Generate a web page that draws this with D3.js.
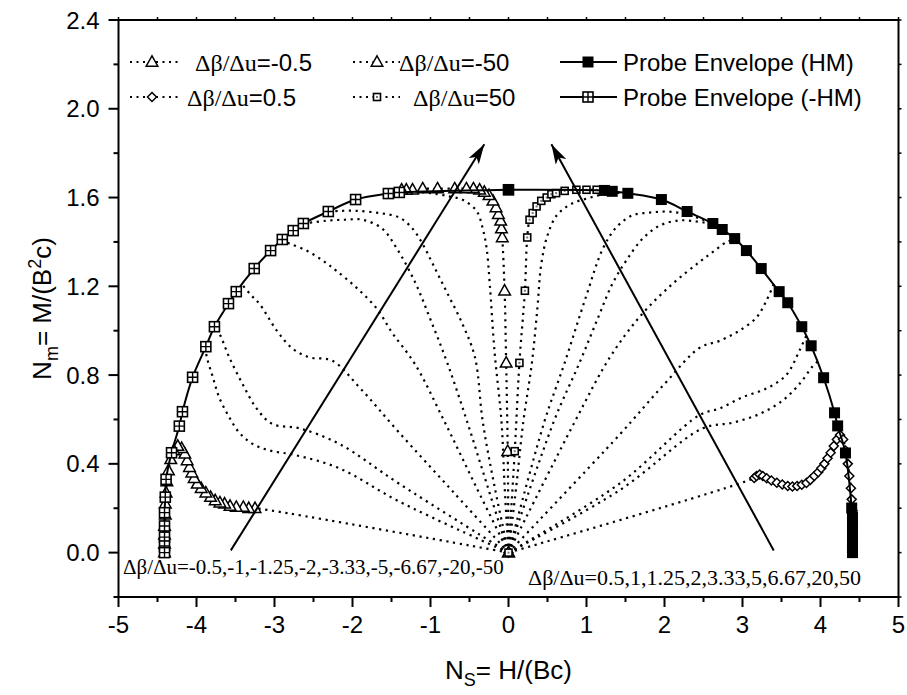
<!DOCTYPE html>
<html><head><meta charset="utf-8">
<script src="https://cdn.jsdelivr.net/npm/d3@7"></script>
<style>body{margin:0;background:#fff}</style>
</head><body><svg id="c" width="907" height="695"></svg>
<script>
// ---------- axis ticks ----------
const xTicks = [-5,-4,-3,-2,-1,0,1,2,3,4,5];
const xMinor = [-4.5,-3.5,-2.5,-1.5,-0.5,0.5,1.5,2.5,3.5,4.5];
const yTicks = [0,0.4,0.8,1.2,1.6,2.0,2.4];
const yMinor = [-0.2,0.2,0.6,1.0,1.4,1.8,2.2];

// ---------- envelopes ----------
const envHM = [[0,1.635],[1.23,1.632],[1.33,1.628],[1.53,1.619],[1.96,1.591],[2.29,1.537],[2.62,1.483],[2.74,1.456],[2.90,1.415],[3.05,1.361],[3.24,1.280],[3.47,1.176],[3.58,1.126],[3.76,1.018],[3.88,0.932],[4.04,0.788],[4.18,0.630],[4.22,0.571],[4.32,0.449],[4.40,0.201],[4.41,0.160],[4.41,0.129],[4.41,0.090],[4.41,0.052],[4.41,0.020],[4.41,0]];
const envNegHM = [[0,1.635],[-1.40,1.623],[-1.54,1.618],[-1.96,1.591],[-2.31,1.537],[-2.63,1.483],[-2.76,1.451],[-2.90,1.411],[-3.05,1.361],[-3.26,1.280],[-3.49,1.176],[-3.59,1.122],[-3.77,1.018],[-3.88,0.928],[-4.05,0.790],[-4.18,0.635],[-4.22,0.570],[-4.32,0.450],[-4.39,0.330],[-4.40,0.250],[-4.41,0.180],[-4.41,0.120],[-4.41,0.070],[-4.41,0.030],[-4.41,0]];

// ---------- dotted series with markers ----------
const sNeg0_5 = [[0,0],[-3.25,0.20],[-3.33,0.20],[-3.40,0.205],[-3.49,0.205],[-3.57,0.21],[-3.64,0.22],[-3.70,0.225],[-3.76,0.235],[-3.82,0.25],[-3.88,0.27],[-3.94,0.29],[-3.99,0.31],[-4.03,0.335],[-4.06,0.36],[-4.09,0.385],[-4.12,0.415],[-4.15,0.445],[-4.19,0.47],[-4.24,0.48],[-4.29,0.46],[-4.33,0.42],[-4.36,0.37],[-4.38,0.32],[-4.39,0.27],[-4.40,0.22],[-4.40,0.17],[-4.41,0.12],[-4.41,0.08],[-4.41,0.04],[-4.41,0]];
const sPos0_5 = [[0,0],[3.15,0.336],[3.18,0.345],[3.22,0.352],[3.26,0.345],[3.31,0.335],[3.37,0.325],[3.44,0.315],[3.51,0.307],[3.58,0.30],[3.64,0.298],[3.70,0.30],[3.76,0.306],[3.82,0.314],[3.87,0.328],[3.92,0.345],[3.97,0.362],[4.01,0.38],[4.05,0.40],[4.09,0.425],[4.13,0.45],[4.17,0.48],[4.21,0.51],[4.25,0.53],[4.29,0.51],[4.32,0.46],[4.35,0.40],[4.37,0.345],[4.39,0.29],[4.40,0.24],[4.41,0.19],[4.41,0.14],[4.41,0.09],[4.41,0.045],[4.41,0]];
const sNeg50 = [[0,0],[-0.01,0.457],[-0.03,0.855],[-0.05,1.18],[-0.08,1.42],[-0.09,1.46],[-0.10,1.495],[-0.13,1.525],[-0.16,1.555],[-0.20,1.585],[-0.25,1.61],[-0.31,1.625],[-0.37,1.635],[-0.45,1.64],[-0.54,1.64],[-0.69,1.64],[-0.91,1.64],[-1.10,1.64],[-1.23,1.635],[-1.31,1.635],[-1.37,1.635]];
const sPos50 = [[0,0],[0.08,0.457],[0.14,0.855],[0.21,1.18],[0.24,1.42],[0.27,1.50],[0.31,1.53],[0.36,1.56],[0.42,1.585],[0.49,1.60],[0.55,1.615],[0.61,1.62],[0.72,1.63],[0.87,1.635],[1.0,1.635],[1.13,1.635]];

// ---------- dotted series without markers ----------
const sNeg1 = [[0,0],[-1.40,0.23],[-2.17,0.38],[-2.74,0.44],[-3.06,0.46],[-3.28,0.49],[-3.45,0.54],[-3.58,0.61],[-3.71,0.70],[-3.79,0.79],[-3.86,0.87],[-3.89,0.92]];
const sNeg1_25 = [[0,0],[-1.40,0.31],[-2.17,0.49],[-2.68,0.56],[-3.03,0.58],[-3.23,0.65],[-3.41,0.76],[-3.58,0.88],[-3.71,0.99],[-3.77,1.02]];
const sNeg2 = [[0,0],[-0.70,0.27],[-1.40,0.54],[-1.90,0.74],[-2.26,0.865],[-2.55,0.88],[-2.77,0.92],[-2.97,1.0],[-3.19,1.12],[-3.30,1.16],[-3.42,1.21]];
const sNeg3_33 = [[0,0],[-0.42,0.30],[-0.82,0.59],[-1.20,0.85],[-1.49,0.99],[-1.69,1.10],[-1.95,1.194],[-2.21,1.271],[-2.38,1.316],[-2.59,1.361],[-2.81,1.393],[-2.92,1.41]];
const sNeg5 = [[0,0],[-0.27,0.30],[-0.53,0.59],[-0.78,0.85],[-1.0,1.05],[-1.20,1.22],[-1.44,1.375],[-1.62,1.46],[-1.87,1.50],[-2.10,1.50],[-2.35,1.495],[-2.62,1.483]];
const sNeg6_67 = [[0,0],[-0.18,0.30],[-0.33,0.59],[-0.43,0.88],[-0.59,1.03],[-0.80,1.18],[-0.97,1.30],[-1.10,1.39],[-1.23,1.46],[-1.40,1.51],[-1.65,1.53],[-1.95,1.54],[-2.15,1.54],[-2.31,1.537]];
const sNeg20 = [[0,0],[-0.05,0.30],[-0.09,0.59],[-0.18,0.91],[-0.24,1.21],[-0.28,1.37],[-0.33,1.46],[-0.41,1.54],[-0.59,1.59],[-0.76,1.605],[-1.0,1.62],[-1.30,1.63]];
const sPos1 = [[0,0],[1.42,0.28],[2.49,0.56],[2.87,0.585],[3.22,0.625],[3.51,0.684],[3.73,0.76],[3.90,0.84],[3.96,0.86]];
const sPos1_25 = [[0,0],[1.42,0.31],[2.45,0.62],[2.71,0.65],[3.0,0.70],[3.31,0.74],[3.56,0.80],[3.73,0.91],[3.82,0.98]];
const sPos2 = [[0,0],[1.42,0.53],[2.0,0.76],[2.45,0.923],[2.71,0.955],[2.96,1.0],[3.18,1.06],[3.30,1.13],[3.40,1.21]];
const sPos3_33 = [[0,0],[0.85,0.59],[1.30,0.88],[1.70,1.07],[2.10,1.21],[2.45,1.31],[2.64,1.36],[2.80,1.40],[2.92,1.41]];
const sPos5 = [[0,0],[0.58,0.59],[0.91,0.855],[1.15,1.06],[1.33,1.21],[1.51,1.316],[1.72,1.415],[1.94,1.474],[2.19,1.497],[2.41,1.492],[2.60,1.48],[2.74,1.456]];
const sPos6_67 = [[0,0],[0.46,0.59],[0.72,0.855],[1.0,1.16],[1.21,1.37],[1.38,1.465],[1.59,1.52],[1.81,1.532],[2.03,1.537],[2.24,1.528],[2.45,1.506],[2.62,1.483]];
const sPos20 = [[0,0],[0.10,0.30],[0.19,0.59],[0.30,0.855],[0.37,1.10],[0.42,1.30],[0.50,1.43],[0.62,1.52],[0.80,1.57],[1.05,1.60],[1.30,1.62],[1.53,1.62]];

// ---------- annotations ----------
const arrowLeft = [[-3.56,0.01],[-0.31,1.84]];
const arrowRight = [[3.40,0.01],[0.55,1.84]];
const legendLabels = ["\u0394\u03b2/\u0394u=-0.5","\u0394\u03b2/\u0394u=-50","Probe Envelope (HM)","\u0394\u03b2/\u0394u=0.5","\u0394\u03b2/\u0394u=50","Probe Envelope (-HM)"];
const noteLeft = "=-0.5,-1,-1.25,-2,-3.33,-5,-6.67,-20,-50";
const noteRight = "=0.5,1,1.25,2,3.33,5,6.67,20,50";

// ---------- drawing ----------
const svg = d3.select("#c");
const L = 118.5, R = 898.5, T = 20, B = 597;
const x = d3.scaleLinear([-5,5],[L,R]);
const y = d3.scaleLinear([-0.2,2.4],[B,T]);
const SANS = "'Liberation Sans', Arial, sans-serif";
const SERIF = "'Liberation Serif', 'Times New Roman', serif";

svg.append("rect").attr("width",907).attr("height",695).attr("fill","#fff");
const defs = svg.append("defs");
defs.append("clipPath").attr("id","clip")
  .append("rect").attr("x",L).attr("y",T).attr("width",R-L).attr("height",B-T);
defs.append("marker").attr("id","ah").attr("viewBox","0 0 20 12").attr("refX",20).attr("refY",6)
  .attr("markerWidth",20).attr("markerHeight",12).attr("markerUnits","userSpaceOnUse").attr("orient","auto")
  .append("path").attr("d","M0,0 L20,6 L0,12 L5,6 Z").attr("fill","#000");

const plot = svg.append("g").attr("clip-path","url(#clip)");
const line = d3.line().x(d=>x(d[0])).y(d=>y(d[1])).curve(d3.curveCatmullRom.alpha(0.5));

const plain = [sNeg1,sNeg1_25,sNeg2,sNeg3_33,sNeg5,sNeg6_67,sNeg20,sPos1,sPos1_25,sPos2,sPos3_33,sPos5,sPos6_67,sPos20,sNeg0_5,sPos0_5,sNeg50,sPos50];
plain.forEach(s=>{
  plot.append("path").attr("d",line(s)).attr("fill","none").attr("stroke","#000")
    .attr("stroke-width",2.2).attr("stroke-dasharray","2.2,4.6");
});

// marker drawers
function tri(g,cx,cy,s){ g.append("path").attr("d",`M${cx},${cy-s*0.62} L${cx+s*0.58},${cy+s*0.42} L${cx-s*0.58},${cy+s*0.42} Z`).attr("fill","#fff").attr("stroke","#000").attr("stroke-width",1.5); }
function dia(g,cx,cy,s){ g.append("path").attr("d",`M${cx},${cy-s/2} L${cx+s/2},${cy} L${cx},${cy+s/2} L${cx-s/2},${cy} Z`).attr("fill","#fff").attr("stroke","#000").attr("stroke-width",1.5); }
function sq(g,cx,cy,s){ g.append("rect").attr("x",cx-s/2).attr("y",cy-s/2).attr("width",s).attr("height",s).attr("fill","#fff").attr("stroke","#000").attr("stroke-width",1.6);
  g.append("rect").attr("x",cx-1).attr("y",cy-1).attr("width",2).attr("height",2).attr("fill","#777"); }
function fsq(g,cx,cy,s){ g.append("rect").attr("x",cx-s/2).attr("y",cy-s/2).attr("width",s).attr("height",s).attr("fill","#000"); }
function xsq(g,cx,cy,s){ g.append("rect").attr("x",cx-s/2).attr("y",cy-s/2).attr("width",s).attr("height",s).attr("fill","#fff").attr("stroke","#000").attr("stroke-width",1.6);
  g.append("path").attr("d",`M${cx-s/2},${cy} L${cx+s/2},${cy} M${cx},${cy-s/2} L${cx},${cy+s/2}`).attr("stroke","#000").attr("stroke-width",1.4); }

const mk = plot.append("g");
sNeg0_5.forEach(d=>tri(mk,x(d[0]),y(d[1]),10));
sPos0_5.forEach(d=>dia(mk,x(d[0]),y(d[1]),9));
sNeg50.forEach(d=>tri(mk,x(d[0]),y(d[1]),10));
sPos50.forEach(d=>sq(mk,x(d[0]),y(d[1]),7));

// envelopes
plot.append("path").attr("d",line(envNegHM)).attr("fill","none").attr("stroke","#000").attr("stroke-width",2);
plot.append("path").attr("d",line(envHM)).attr("fill","none").attr("stroke","#000").attr("stroke-width",2);
const mk2 = plot.append("g");
envNegHM.forEach(d=>xsq(mk2,x(d[0]),y(d[1]),10));
envHM.forEach(d=>fsq(mk2,x(d[0]),y(d[1]),11));

// arrows
[arrowLeft,arrowRight].forEach(a=>{
  svg.append("line").attr("x1",x(a[0][0])).attr("y1",y(a[0][1])).attr("x2",x(a[1][0])).attr("y2",y(a[1][1]))
    .attr("stroke","#000").attr("stroke-width",2).attr("marker-end","url(#ah)");
});

// frame
svg.append("rect").attr("x",L).attr("y",T).attr("width",R-L).attr("height",B-T).attr("fill","none").attr("stroke","#000").attr("stroke-width",2);

// axes ticks
const ax = svg.append("g").attr("stroke","#000").attr("stroke-width",2);
xTicks.forEach(t=>ax.append("line").attr("x1",x(t)).attr("x2",x(t)).attr("y1",B).attr("y2",B+10));
xMinor.forEach(t=>ax.append("line").attr("x1",x(t)).attr("x2",x(t)).attr("y1",B).attr("y2",B+5));
yTicks.forEach(t=>ax.append("line").attr("x1",L).attr("x2",L-10).attr("y1",y(t)).attr("y2",y(t)));
yMinor.forEach(t=>ax.append("line").attr("x1",L).attr("x2",L-5).attr("y1",y(t)).attr("y2",y(t)));
// small ticks on top and right edges
xTicks.concat(xMinor).forEach(t=>ax.append("line").attr("x1",x(t)).attr("x2",x(t)).attr("y1",T).attr("y2",T-3).attr("stroke-width",1.5));
yTicks.concat(yMinor).forEach(t=>ax.append("line").attr("x1",R).attr("x2",R+3).attr("y1",y(t)).attr("y2",y(t)).attr("stroke-width",1.5));

const tl = svg.append("g").attr("font-family",SANS).attr("font-size",24).attr("fill","#000");
xTicks.forEach(t=>tl.append("text").attr("x",x(t)).attr("y",B+36).attr("text-anchor","middle").text(String(t)));
yTicks.forEach(t=>tl.append("text").attr("x",L-19).attr("y",y(t)+8.5).attr("text-anchor","end").text(d3.format(".1f")(t)));

// axis titles
const xt = svg.append("text").attr("x",(L+R)/2).attr("y",679).attr("text-anchor","middle").attr("font-family",SANS).attr("font-size",26);
xt.append("tspan").text("N");
xt.append("tspan").attr("font-size",18).attr("dy",7).text("S");
xt.append("tspan").attr("dy",-7).text("= H/(Bc)");

const yt = svg.append("text").attr("transform",`translate(51,${(T+B)/2}) rotate(-90)`).attr("text-anchor","middle").attr("font-family",SANS).attr("font-size",26);
yt.append("tspan").text("N");
yt.append("tspan").attr("font-size",18).attr("dy",7).text("m");
yt.append("tspan").attr("dy",-7).text("= M/(B");
yt.append("tspan").attr("font-size",18).attr("dy",-10).text("2");
yt.append("tspan").attr("dy",10).text("c)");

// legend
const lg = svg.append("g");
const rowY = [62,97];
const cols = [{x0:130,x1:178,mx:152,tx:[195,187]},{x0:353,x1:400,mx:377,tx:[399,413]},{x0:560,x1:617,mx:588,tx:[623,623]}];
const lMarks = [[tri,10],[tri,10],[fsq,11],[dia,9],[sq,7],[xsq,10]];
for(let i=0;i<6;i++){
  const r = Math.floor(i/3), c = i%3, cy = rowY[r], col = cols[c];
  const ln = lg.append("line").attr("x1",col.x0).attr("x2",col.x1).attr("y1",cy).attr("y2",cy).attr("stroke","#000").attr("stroke-width",2);
  if(c<2) ln.attr("stroke-dasharray","2,4.5");
  lMarks[i][0](lg,col.mx,cy,lMarks[i][1]);
  const t = lg.append("text").attr("x",col.tx[r]).attr("y",cy+8.5).attr("font-size",24).attr("font-family",SANS);
  if(c<2){
    t.append("tspan").attr("font-family",SERIF).text(legendLabels[i].slice(0,5));
    t.append("tspan").text(legendLabels[i].slice(5));
  } else t.text(legendLabels[i]);
}

// bottom notes
const nl = svg.append("text").attr("x",123).attr("y",574).attr("font-family",SERIF).attr("font-size",21);
nl.append("tspan").text("\u0394\u03b2/\u0394u");
nl.append("tspan").text(noteLeft);
const nr = svg.append("text").attr("x",528).attr("y",585).attr("font-family",SERIF).attr("font-size",22);
nr.append("tspan").text("\u0394\u03b2/\u0394u");
nr.append("tspan").text(noteRight);
</script></body></html>
